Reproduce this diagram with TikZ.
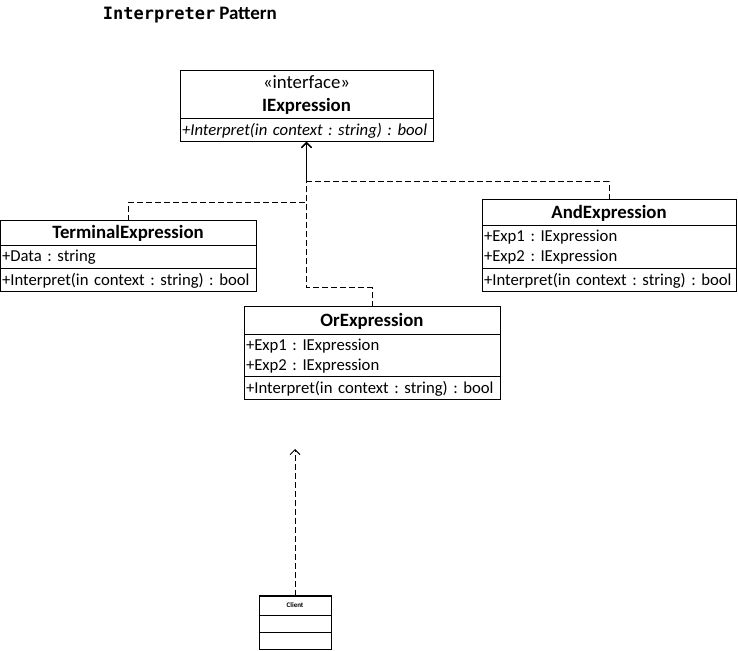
\documentclass[tikz,border=0pt]{standalone}
\usepackage{fontspec}
\setmainfont{Carlito}
\setmonofont{DejaVu Sans Mono}
\usetikzlibrary{positioning,arrows.meta}
\begin{document}
\frenchspacing
\begin{tikzpicture}[x=1pt,y=1pt,line width=1pt,font=\fontsize{16.7}{20}\selectfont,
 part/.style={draw,outer sep=0pt,inner xsep=2pt,inner ysep=0pt,text width=#1,align=left,minimum height=23},
 head/.style={font=\fontsize{18.8}{23}\selectfont\bfseries,align=center,minimum height=#1},
 dep/.style={dash pattern=on 6pt off 3pt,-{Straight Barb[length=5pt,width=10pt]}}]
\useasboundingbox (0,0) rectangle (738,650);
\node[anchor=west,font=\fontsize{17}{20}\selectfont] (ttl) at (99,635) {{\ttfamily\bfseries Interpreter} {\fontsize{19}{20}\selectfont\bfseries Pattern}};
% interface
\node[part=249,anchor=north west,head=48] (iexp) at (180,579) {{\mdseries «interface»}\\IExpression};
\node[part=249,below=0pt of iexp] (iexpM) {\itshape +Interpret(in context : string) : bool};
% terminal
\node[part=252,anchor=north west,head=25] (term) at (0,429) {TerminalExpression};
\node[part=252,below=0pt of term] (termA) {+Data : string};
\node[part=252,below=0pt of termA] (termM) {+Interpret(in context : string) : bool};
% and
\node[part=250,anchor=north west,head=26] (and) at (482,450) {AndExpression};
\node[part=250,below=0pt of and,minimum height=43] (andA) {+Exp1 : IExpression\\+Exp2 : IExpression};
\node[part=250,below=0pt of andA] (andM) {+Interpret(in context : string) : bool};
% or
\node[part=252,anchor=north west,head=28] (or) at (244,343) {OrExpression};
\node[part=252,below=0pt of or,minimum height=42] (orA) {+Exp1 : IExpression\\+Exp2 : IExpression};
\node[part=252,below=0pt of orA] (orM) {+Interpret(in context : string) : bool};
% client
\node[part=68,anchor=north west,head=19,font=\fontsize{7}{8}\selectfont\bfseries] (client) at (259,54) {Client};
\node[part=68,below=0pt of client,minimum height=17] (clientA) {};
\node[part=68,below=0pt of clientA,minimum height=17] (clientM) {};
% realization
\foreach \n/\h in {term/18,and/18,or/19}
 \draw[dep] (\n.north) -- ++(0,\h) -| (iexpM.south);
\coordinate (cTip) at (295,201);
\draw[dep] (client.north) -- (cTip);
\end{tikzpicture}
\end{document}
